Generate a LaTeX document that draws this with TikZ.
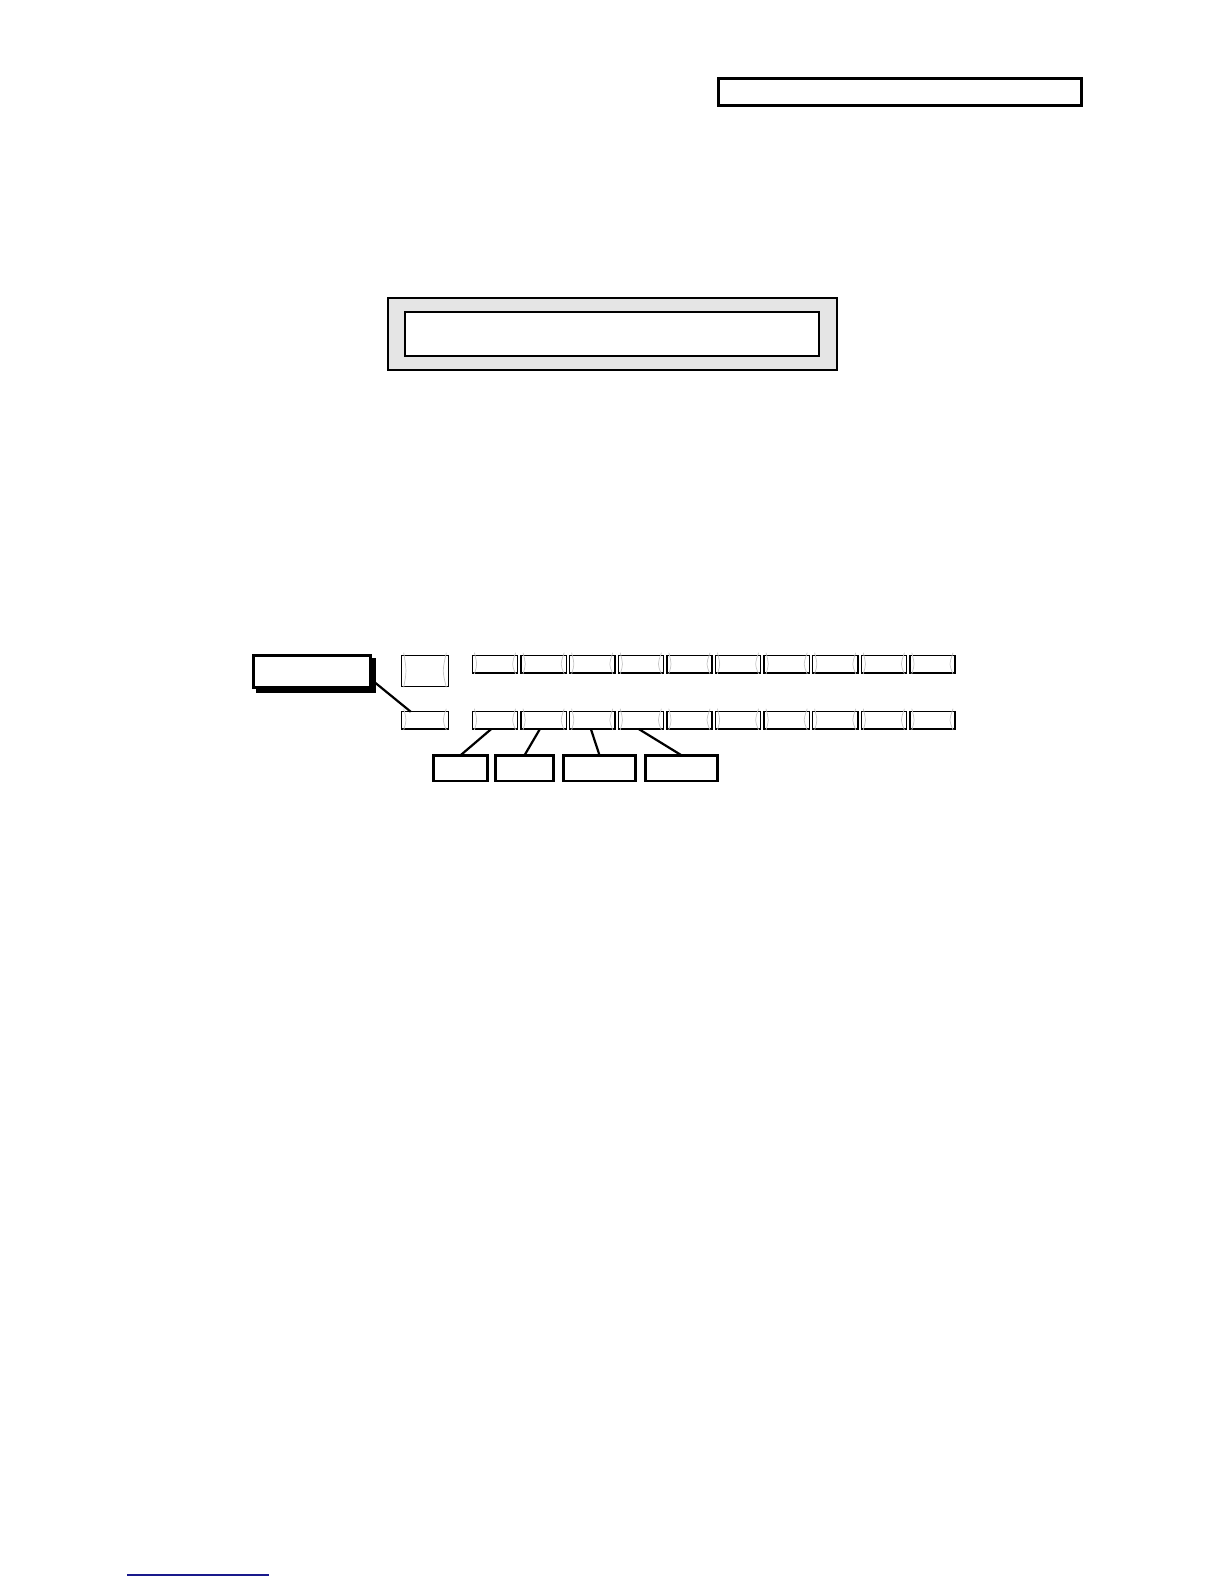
\documentclass[tikz,border=0pt]{standalone}
\usetikzlibrary{calc}
\definecolor{navyline}{RGB}{25,25,140}
\tikzset{
  box/.style={draw, anchor=north west, inner sep=0pt, outer sep=0pt},
  cell/.style={box, line width=0.7pt, minimum width=22.6pt, minimum height=8.6pt},
  lbl/.style={box, line width=1.3pt, minimum height=12.8pt},
  faint/.style={draw=gray!45, line width=0.35pt},
  conn/.style={line width=1.1pt},
}
\begin{document}
\begin{tikzpicture}[x=0.5pt,y=-0.5pt]
\useasboundingbox (0,0) rectangle (1224,1584);
% top box
\node[box, line width=1.5pt, minimum width=181.5pt, minimum height=13.5pt] (top) at (718.5,78.5) {};
% grey frame
\node[box, line width=1pt, fill=gray!20, minimum width=224.5pt, minimum height=36pt] (frame) at (388,298) {};
\node[box, line width=1pt, fill=white, minimum width=207pt, minimum height=22pt] (inner) at (405,312) {};
% shadowed box
\fill (256,658) rectangle (376,693);
\node[box, line width=1.3pt, fill=white, minimum width=58.7pt, minimum height=16.2pt] (lbox) at (253.3,655.3) {};
% left column
\node[cell, minimum width=23.3pt, minimum height=15.3pt] (a0) at (401.7,655.7) {};
\node[cell, minimum width=23.3pt] (b0) at (401.7,711.7) {};
% rows of cells
\foreach \i in {1,...,10}{
  \pgfmathsetmacro{\xx}{472.4+48.6*(\i-1)}
  \node[cell] (a\i) at (\xx,655.7) {};
  \node[cell] (b\i) at (\xx,711.7) {};
}
% faint arcs
\foreach \n in {a0,b0,a1,a2,a3,a4,a5,a6,a7,a8,a9,a10,b1,b2,b3,b4,b5,b6,b7,b8,b9,b10}{
  \draw[faint] ($(\n.north west)+(2,-3)$) .. controls ($(\n.west)+(5,0)$) .. ($(\n.south west)+(2,1)$);
  \draw[faint] ($(\n.north east)+(-2,-3)$) .. controls ($(\n.east)+(-6,0)$) .. ($(\n.south east)+(-2,1)$);
}
% labels
\node[lbl, minimum width=27.2pt] (l1) at (433.3,755.3) {};
\node[lbl, minimum width=29.2pt] (l2) at (495.3,755.3) {};
\node[lbl, minimum width=36.2pt] (l3) at (563.3,755.3) {};
\node[lbl, minimum width=36.2pt] (l4) at (645.3,755.3) {};
% connectors
\draw[conn] ($(lbox.east)+(3,10)$) -- ($(b0.north west)+(9,0)$);
\draw[conn] ($(b1.south west)!0.42!(b1.south east)$) -- (l1.north);
\draw[conn] ($(b2.south west)!0.42!(b2.south east)$) -- (l2.north);
\draw[conn] ($(b3.south west)!0.47!(b3.south east)$) -- (l3.north);
\draw[conn] ($(b4.south west)!0.45!(b4.south east)$) -- (l4.north);
% footer line
\coordinate (fl) at (127,1575);
\coordinate (fr) at (269,1575);
\draw[navyline, line width=0.9pt] (fl) -- (fr);
\end{tikzpicture}
\end{document}
